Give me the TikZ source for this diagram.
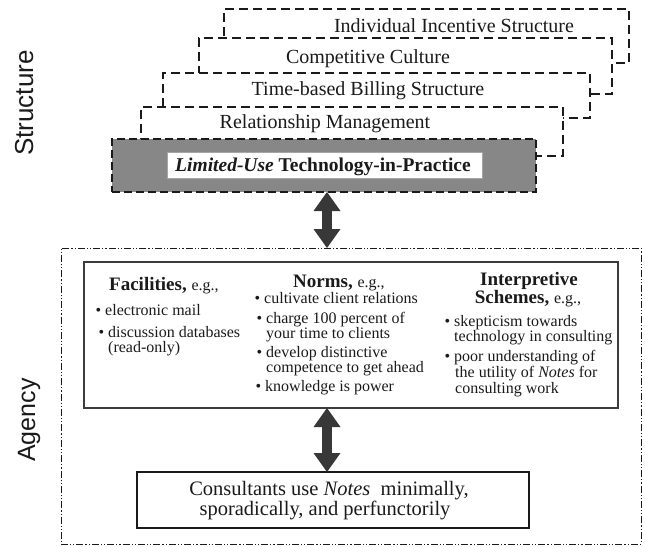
\documentclass[tikz,border=0pt]{standalone}
\usepackage{fontspec}
\setmainfont{Liberation Serif}
\newfontfamily\lblfont{Liberation Sans}
\usetikzlibrary{arrows.meta}
\definecolor{ink}{HTML}{1A1A1A}
\definecolor{boxgray}{HTML}{878787}
\definecolor{arrowgray}{HTML}{383838}
\tikzset{
  card/.style={draw=ink, fill=white, line width=2.2pt, dash pattern=on 9pt off 5pt, inner sep=0pt, outer sep=0pt},
  graycard/.style={draw=ink, fill=boxgray, line width=2.2pt, dash pattern=on 8pt off 4pt, inner sep=0pt, outer sep=0pt},
  whitebox/.style={draw=gray!70, fill=white, line width=0.6pt, inner sep=0pt, outer sep=0pt},
  outerbox/.style={draw=ink, line width=1pt, dash pattern=on 7pt off 2pt on 1.2pt off 2pt on 1.2pt off 2pt, inner sep=0pt, outer sep=0pt},
  innerbox/.style={draw=ink!85, line width=1.3pt, inner sep=0pt, outer sep=0pt},
  resultbox/.style={draw=ink, line width=2.2pt, inner sep=0pt, outer sep=0pt},
  toptext/.style={font=\fontsize{20}{22}\selectfont, inner sep=0pt, anchor=base, text=ink},
  lbl/.style={font=\lblfont\fontsize{26}{30}\selectfont, inner sep=0pt, rotate=90, anchor=base, text=ink},
  coltext/.style={font=\fontsize{16}{17}\selectfont, inner sep=0pt, anchor=base west, text=ink},
  colhead/.style={font=\fontsize{19}{21}\selectfont, inner sep=0pt, text=ink},
  restext/.style={font=\fontsize{20.5}{22}\selectfont, inner sep=0pt, anchor=base, text=ink},
  dblarrow/.style={draw=arrowgray, line width=10pt,
    {Triangle[width=27pt,length=19pt,line width=0pt]}-{Triangle[width=27pt,length=19pt,line width=0pt]}}
}
\newcommand{\bul}{\llap{\textbullet\hspace{4pt}}}
\newcommand{\eg}{\fontsize{16}{18}\selectfont\mdseries e.g.,}
\begin{document}
\begin{tikzpicture}[x=1pt,y=-1pt]
\useasboundingbox (0,0) rectangle (645,546);
% --- structure stack
\node[card, minimum width=405pt, minimum height=54pt] (box4) at (426.5,36) {};
\node[toptext] (t4) at (454,32) {Individual Incentive Structure};
\node[card, minimum width=413pt, minimum height=56pt] (box3) at (405.5,66) {};
\node[toptext] (t3) at (368,63) {Competitive Culture};
\node[card, minimum width=427pt, minimum height=45pt] (box2) at (376.5,95.5) {};
\node[toptext] (t2) at (368,95) {Time-based Billing Structure};
\node[card, minimum width=422pt, minimum height=49pt] (box1) at (352,131.5) {};
\node[toptext] (t1) at (325,128) {Relationship Management};
\node[graycard, minimum width=424pt, minimum height=53pt] (box0) at (324,165.5) {};
\node[whitebox, minimum width=315pt, minimum height=26pt] (ltp) at (324.5,165.5) {};
\node[toptext, font=\fontsize{19.5}{21}\selectfont\bfseries] (ltptext) at (323,171) {\textit{Limited-Use} Technology-in-Practice};
\node[lbl] (structure) at (33,103) {Structure};
% --- agency part
\node[outerbox, minimum width=580pt, minimum height=296pt] (outer) at (351,396) {};
\node[innerbox, minimum width=534pt, minimum height=146pt] (inner) at (351,335) {};
\node[resultbox, minimum width=392pt, minimum height=56pt] (result) at (333,500) {};
\node[lbl, font=\lblfont\fontsize{25}{30}\selectfont] (agency) at (35,420) {Agency};
% facilities
\node[colhead, anchor=base west] (hfac) at (109,290) {\textbf{Facilities,} \eg};
\node[coltext] (f1) at (105,315) {\bul electronic mail};
\node[coltext] (f2) at (108,337) {\bul discussion databases};
\node[coltext] (f3) at (108,352) {(read-only)};
% norms
\node[colhead, anchor=base west] (hnorm) at (293,287) {\textbf{Norms,} \eg};
\node[coltext] (n1) at (264,303) {\bul cultivate client relations};
\node[coltext] (n2) at (266,323) {\bul charge 100 percent of};
\node[coltext] (n3) at (266,338) {your time to clients};
\node[coltext] (n4) at (266,357) {\bul develop distinctive};
\node[coltext] (n5) at (266,372) {competence to get ahead};
\node[coltext] (n6) at (265,391) {\bul knowledge is power};
% interpretive schemes
\node[colhead, anchor=base] (hint1) at (529,285) {\textbf{Interpretive}};
\node[colhead, anchor=base] (hint2) at (528,303) {\textbf{Schemes,} \eg};
\node[coltext] (i1) at (454,326) {\bul skepticism towards};
\node[coltext] (i2) at (454,341) {technology in consulting};
\node[coltext] (i3) at (454,361) {\bul poor understanding of};
\node[coltext] (i4) at (455,377) {the utility of \textit{Notes} for};
\node[coltext] (i5) at (455,393) {consulting work};
% result
\node[restext] (r1) at (329,495) {Consultants use \textit{Notes}\ \ minimally,};
\node[restext] (r2) at (325,515) {sporadically, and perfunctorily};
% arrows
\coordinate (ax) at (327,0);
\draw[dblarrow] (box0.south -| ax) -- (outer.north -| ax);
\draw[dblarrow] (inner.south -| ax) -- (result.north -| ax);
\end{tikzpicture}
\end{document}
